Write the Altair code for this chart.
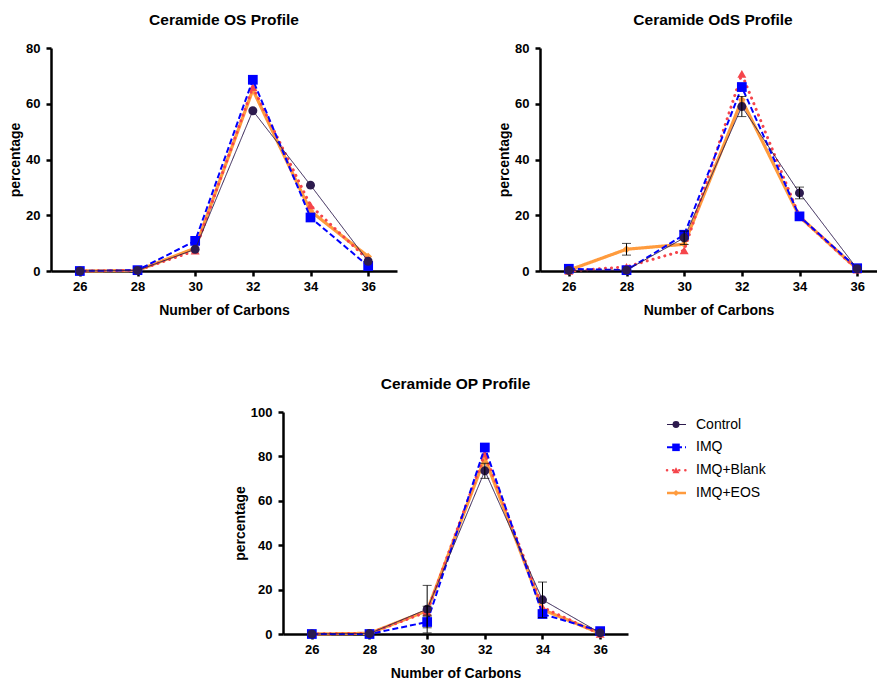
import altair as alt
import pandas as pd

carbons = [26, 28, 30, 32, 34, 36]
series_names = ["Control", "IMQ", "IMQ+Blank", "IMQ+EOS"]

# Ceramide OS
os_control = [0.0, 0.2, 7.8, 57.5, 30.8, 3.5]
os_imq = [0.0, 0.3, 10.8, 68.6, 19.2, 1.8]
os_blank = [0.0, 0.2, 7.3, 66.0, 23.5, 4.0]
os_eos = [0.0, 0.2, 8.2, 65.0, 21.5, 5.2]

# Ceramide OdS
ods_control = [0.2, 0.3, 11.9, 59.0, 28.0, 0.8]
ods_control_err = [0.0, 0.0, 2.4, 3.6, 2.1, 0.0]
ods_imq = [0.8, 0.3, 13.0, 66.0, 19.6, 1.0]
ods_blank = [0.0, 1.5, 7.4, 70.7, 19.5, 0.5]
ods_eos = [0.3, 7.8, 9.6, 61.4, 19.5, 0.7]
ods_eos_err = [0.0, 2.1, 0.0, 0.0, 0.0, 0.0]

# Ceramide OP
op_control = [0.0, 0.2, 11.2, 73.5, 15.4, 0.5]
op_control_err = [0.0, 0.0, 10.7, 3.4, 8.0, 0.0]
op_imq = [0.0, 0.0, 5.4, 84.0, 9.0, 1.3]
op_imq_err = [0.0, 0.0, 2.6, 0.0, 0.0, 0.0]
op_blank = [0.0, 0.3, 10.0, 81.3, 12.0, 0.0]
op_eos = [0.0, 0.3, 10.5, 79.3, 11.0, 0.3]
op_eos_err = [0.0, 0.0, 2.0, 0.0, 0.0, 0.0]

STYLE = {
    "Control": dict(color="#2D1B4E", width=1.0, dash=[1, 0], cap="butt", shape="circle", size=80),
    "IMQ": dict(color="#0000FF", width=2.0, dash=[6, 3], cap="butt", shape="square", size=95),
    "IMQ+Blank": dict(color="#F5454B", width=3.0, dash=[0.1, 6], cap="round", shape="triangle-up", size=80),
    "IMQ+EOS": dict(color="#FF9B3D", width=3.2, dash=[1, 0], cap="butt", shape="diamond", size=60),
}
DRAW_ORDER = ["IMQ+EOS", "IMQ+Blank", "IMQ", "Control"]
FONT = "Liberation Sans"
PX_PER_UNIT = 346 / 12.0


def panel(title, values, errors, ymax, width, title_dx=0, legend=False):
    xmax = 25 + width / PX_PER_UNIT
    height = 223 if ymax == 80 else 222
    x = alt.X("c:Q", scale=alt.Scale(domain=[25, xmax], nice=False, zero=False),
              axis=alt.Axis(values=carbons, format="d", title="Number of Carbons"))
    yscale = alt.Scale(domain=[0, ymax], nice=False)
    yaxis = alt.Axis(values=list(range(0, ymax + 1, 20)), title="percentage")
    layers = []
    for s in DRAW_ORDER:
        st = STYLE[s]
        df = pd.DataFrame({"c": carbons, "v": values[s]})
        base = alt.Chart(df)
        layers.append(base.mark_line(color=st["color"], strokeWidth=st["width"],
                                     strokeDash=st["dash"], strokeCap=st["cap"], clip=False)
                      .encode(x=x, y=alt.Y("v:Q", scale=yscale, axis=yaxis)))
        layers.append(base.mark_point(shape=st["shape"], filled=True, opacity=1,
                                      color=st["color"], size=st["size"], clip=False)
                      .encode(x=x, y=alt.Y("v:Q", scale=yscale, axis=yaxis)))
    for s, err in errors.items():
        rows = [(c, v - e, v + e) for c, v, e in zip(carbons, values[s], err) if e > 0]
        edf = pd.DataFrame(rows, columns=["c", "lo", "hi"])
        layers.append(alt.Chart(edf).mark_errorbar(ticks=True, size=9, thickness=1, color="black")
                      .encode(x=x, y=alt.Y("lo:Q", scale=yscale, axis=yaxis), y2="hi:Q"))
    chart = alt.layer(*layers)
    if legend:
        ldf_all = pd.DataFrame({"series": series_names})
        lscale = alt.Scale(type="point", domain=series_names, range=[12.5, 81], padding=0)
        leg_layers = []
        for s in series_names:
            st = STYLE[s]
            ldf = ldf_all[ldf_all.series == s]
            ly = alt.Y("series:N", scale=lscale, axis=None)
            leg_layers.append(alt.Chart(ldf).mark_rule(color=st["color"], strokeWidth=min(st["width"], 2.5),
                                                       strokeDash=st["dash"], strokeCap=st["cap"])
                              .encode(x=alt.value(384), x2=alt.value(403), y=ly))
            leg_layers.append(alt.Chart(ldf).mark_point(shape=st["shape"], filled=True, opacity=1,
                                                        color=st["color"], size=st["size"] * 0.6)
                              .encode(x=alt.value(393), y=ly))
            leg_layers.append(alt.Chart(ldf).mark_text(align="left", baseline="middle", font=FONT,
                                                       fontSize=14, color="black")
                              .encode(x=alt.value(413), y=ly, text="series:N"))
        chart = alt.layer(chart, alt.layer(*leg_layers)).resolve_scale(y="independent")
    return chart.properties(width=width, height=height,
                            title=alt.TitleParams(title, dx=title_dx))


os_chart = panel("Ceramide OS Profile",
                 {"Control": os_control, "IMQ": os_imq, "IMQ+Blank": os_blank, "IMQ+EOS": os_eos},
                 {}, 80, 346)
ods_chart = panel("Ceramide OdS Profile",
                  {"Control": ods_control, "IMQ": ods_imq, "IMQ+Blank": ods_blank, "IMQ+EOS": ods_eos},
                  {"Control": ods_control_err, "IMQ+EOS": ods_eos_err}, 80, 337, title_dx=4.5)
op_chart = panel("Ceramide OP Profile",
                 {"Control": op_control, "IMQ": op_imq, "IMQ+Blank": op_blank, "IMQ+EOS": op_eos},
                 {"Control": op_control_err, "IMQ": op_imq_err, "IMQ+EOS": op_eos_err}, 100, 345,
                 legend=True)

spacer = alt.Chart(pd.DataFrame({"a": [0]})).mark_point(opacity=0).encode(
    x=alt.value(0), y=alt.value(0)).properties(width=172, height=10)

chart = alt.vconcat(
    alt.hconcat(os_chart, ods_chart, spacing=100),
    alt.hconcat(spacer, op_chart, spacing=10),
    spacing=59,
).properties(
    padding={"left": 8, "top": 12, "right": 0, "bottom": 0}
).configure_view(stroke=None).configure_axis(
    domainColor="black", domainWidth=2.5, tickColor="black", tickWidth=2.5, tickSize=5,
    labelFont=FONT, labelFontWeight="bold", labelFontSize=13, labelColor="black",
    titleFont=FONT, titleFontSize=14, titleFontWeight="bold", titleColor="black",
    grid=False,
).configure_axisX(
    labelPadding=4, titlePadding=10,
).configure_axisY(
    labelPadding=6, titlePadding=3,
).configure_title(
    font=FONT, fontSize=15.5, fontWeight="bold", color="black", offset=14, anchor="middle",
)

chart.save("out.html", embed_options={"renderer": "svg", "actions": False})
